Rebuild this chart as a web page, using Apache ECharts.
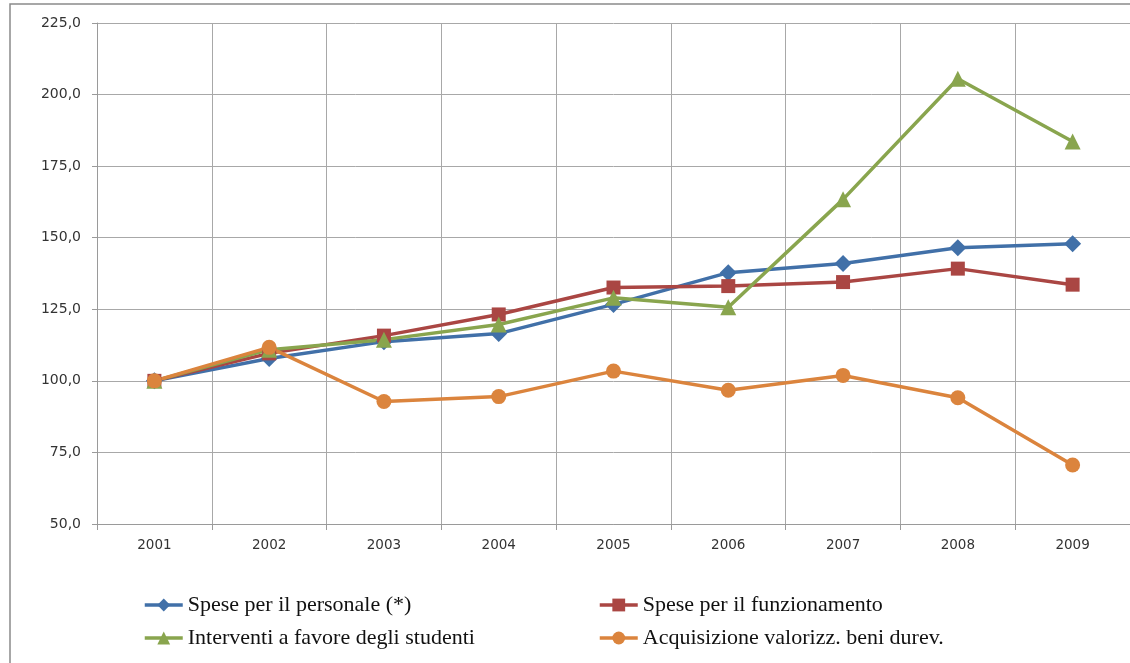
<!DOCTYPE html>
<html>
<head>
<meta charset="utf-8">
<script src="https://cdn.jsdelivr.net/npm/echarts@6/dist/echarts.min.js"></script>
<style>html,body{margin:0;padding:0;background:#fff;}#c{width:1130px;height:663px;}</style>
</head>
<body>
<div id="c"></div>
<script>
const years = ['2001','2002','2003','2004','2005','2006','2007','2008','2009'];
const personale = [100.0, 107.8, 113.7, 116.5, 126.7, 137.8, 141.0, 146.5, 147.9];
const funzionamento = [100.0, 109.6, 115.8, 123.2, 132.6, 133.1, 134.5, 139.2, 133.6];
const studenti = [100.0, 110.9, 114.4, 119.7, 129.0, 125.7, 163.4, 205.5, 183.6];
const beniDurevoli = [100.0, 111.7, 92.8, 94.5, 103.4, 96.7, 101.9, 94.1, 70.6];
const names = ['Spese per il personale (*)', 'Spese per il funzionamento', 'Interventi a favore degli studenti', 'Acquisizione valorizz. beni durev.'];

const chart = echarts.init(document.getElementById('c'), null, {renderer: 'canvas'});
function mk(name, data, color, symbol, size) {
  return {
    name: name, type: 'line', data: data, symbol: symbol, symbolSize: size,
    lineStyle: {color: color, width: 3.5}, itemStyle: {color: color},
    showAllSymbol: true, animation: false
  };
}
const legendText = {fontFamily: 'Liberation Serif', fontSize: 22, color: '#111', lineHeight: 22};
const legendCommon = {orient: 'vertical', top: 594, padding: 0, itemWidth: 38, itemHeight: 16, itemGap: 11,
  textStyle: legendText, lineStyle: {width: 3.5}};
chart.setOption({
  animation: false,
  graphic: [{type: 'rect', shape: {x: 10, y: 4, width: 1200, height: 700}, style: {fill: null, stroke: '#8a8a8a', lineWidth: 1.5}, z: -10}],
  grid: {left: 97, top: 23, right: -4, bottom: 139},
  xAxis: {
    type: 'category', data: years, boundaryGap: true,
    axisLine: {lineStyle: {color: '#9a9a9a', width: 1}},
    axisTick: {show: true, length: 6, lineStyle: {color: '#9a9a9a'}},
    splitLine: {show: true, lineStyle: {color: '#a8a8a8', width: 1}},
    axisLabel: {color: '#333', fontFamily: 'DejaVu Sans', fontSize: 13.5, margin: 14}
  },
  yAxis: {
    type: 'value', min: 50, max: 225, interval: 25,
    axisLine: {show: true, lineStyle: {color: '#9a9a9a', width: 1}},
    axisTick: {show: true, length: 5, lineStyle: {color: '#9a9a9a'}},
    splitLine: {show: true, lineStyle: {color: '#a8a8a8', width: 1}},
    axisLabel: {color: '#333', fontFamily: 'DejaVu Sans', fontSize: 14, margin: 16,
      formatter: v => v.toFixed(1).replace('.', ',')}
  },
  legend: [
    Object.assign({data: [names[0], names[2]], left: 143}, legendCommon),
    Object.assign({data: [names[1], names[3]], left: 598}, legendCommon)
  ],
  series: [
    mk(names[0], personale, '#4170A8', 'diamond', 17),
    mk(names[1], funzionamento, '#AA4643', 'rect', 14),
    mk(names[2], studenti, '#89A54E', 'triangle', 16),
    mk(names[3], beniDurevoli, '#DB843D', 'circle', 15)
  ]
});
</script>
</body>
</html>
